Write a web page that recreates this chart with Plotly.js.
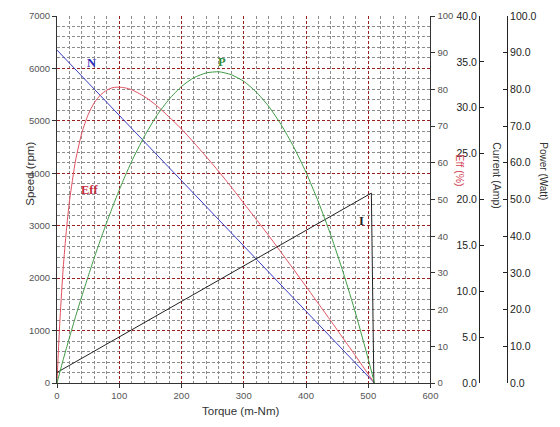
<!DOCTYPE html>
<html><head><meta charset="utf-8">
<script src="https://cdn.plot.ly/plotly-3.0.1.min.js"></script>
<style>html,body{margin:0;padding:0;background:#fff}#chart{width:560px;height:427px}</style>
</head><body><div id="chart"></div>
<script>
// Speed (N) line
const speedTorque = [0, 510];
const speed = [6350, 0];
// Current (I)
const currentTorque = [0, 505, 509];
const current = [1.15, 20.7, 0];
// Power (P) and efficiency (Eff) sampled along torque
const torque = [0,2,5,10,15,20,30,40,50,60,70,80,90,100,110,120,140,160,180,200,220,240,260,280,300,320,340,360,380,400,420,440,460,480,500,510];
const power = [0,1.3,3.2,6.4,9.4,12.4,18.2,23.7,29.0,34.2,39.1,43.8,48.3,52.6,56.6,60.4,67.1,72.8,77.3,80.8,83.2,84.5,84.8,84.0,82.2,79.3,75.4,70.4,64.4,57.4,49.3,40.2,30.0,18.8,6.5,0];
const eff = [0,7.9,18.0,31.4,41.5,49.5,60.8,68.2,73.1,76.4,78.5,79.8,80.5,80.6,80.4,79.9,78.1,75.6,72.5,69.2,65.5,61.6,57.6,53.4,49.0,44.6,40.2,35.6,31.0,26.3,21.6,16.9,12.1,7.3,2.4,0];
// curve labels
const curveLabels = ['N', 'P', 'Eff', 'I'];
// minor grid positions (between majors)
const xMinor = [];
for (let v = 20; v < 600; v += 20) if (v % 100 !== 0) xMinor.push(v);
const yMinor = [];
for (let v = 200; v <= 7000; v += 200) if (v % 1000 !== 0 || v === 7000) yMinor.push(v);

const tickFont = {family: 'Liberation Sans, Arial, sans-serif', size: 9.5, color: '#555'};
const boldTick = {family: 'Liberation Sans, Arial, sans-serif', size: 10.5, color: '#222'};
const XW = 0.7576;
const majorGrid = {showgrid: true, gridcolor: '#9a2020', griddash: '3px,2px', gridwidth: 1};

const traces = [
  {x: speedTorque, y: speed, xaxis: 'x', yaxis: 'y', mode: 'lines', line: {color: '#3b3bc4', width: 1}, hoverinfo: 'skip'},
  {x: torque, y: eff, xaxis: 'x', yaxis: 'y2', mode: 'lines', line: {color: '#e0505f', width: 1, shape: 'spline', smoothing: 0.6}, hoverinfo: 'skip'},
  {x: currentTorque, y: current, xaxis: 'x', yaxis: 'y3', mode: 'lines', line: {color: '#222', width: 1}, hoverinfo: 'skip'},
  {x: torque, y: power, xaxis: 'x', yaxis: 'y4', mode: 'lines', line: {color: '#3f9a44', width: 1, shape: 'spline', smoothing: 0.6}, hoverinfo: 'skip'}
];

const labelFont = (c) => ({family: 'Liberation Serif, Times New Roman, serif', size: 12.5, color: c, weight: 'bold'});

const layout = {
  width: 560, height: 427,
  margin: {l: 57, r: 10, t: 16, b: 44},
  paper_bgcolor: '#fff', plot_bgcolor: '#fff',
  showlegend: false,
  xaxis: Object.assign({
    domain: [0, XW], range: [0, 600], dtick: 100, tick0: 0,
    showline: true, linecolor: '#333', linewidth: 1,
    ticks: 'outside', ticklen: 4, tickcolor: '#333',
    tickfont: tickFont,
    minor: {tickmode: 'array', tickvals: xMinor, showgrid: true, gridcolor: '#8c8c8c', griddash: '3px,2px', gridwidth: 1},
    zeroline: false
  }, majorGrid),
  yaxis: Object.assign({
    range: [0, 7000], dtick: 1000, tick0: 0,
    showline: true, linecolor: '#333', linewidth: 1,
    ticks: 'outside', ticklen: 4, tickcolor: '#333',
    tickfont: tickFont,
    minor: {tickmode: 'array', tickvals: yMinor, showgrid: true, gridcolor: '#8c8c8c', griddash: '3px,2px', gridwidth: 1},
    zeroline: false
  }, majorGrid),
  yaxis2: {
    overlaying: 'y', side: 'right', anchor: 'x', range: [0, 100], dtick: 10,
    showline: true, linecolor: '#333', linewidth: 1,
    ticks: 'outside', ticklen: 4, tickcolor: '#333',
    tickfont: tickFont, showgrid: false, zeroline: false
  },
  yaxis3: {
    overlaying: 'y', side: 'left', anchor: 'free', position: 0.856,
    range: [0, 40], dtick: 5, tickformat: '.1f',
    showline: true, linecolor: '#222', linewidth: 1,
    ticks: 'inside', ticklen: 4, tickcolor: '#222',
    tickfont: boldTick, showgrid: false, zeroline: false
  },
  yaxis4: {
    overlaying: 'y', side: 'right', anchor: 'free', position: 0.9128,
    range: [0, 100], dtick: 10, tickformat: '.1f',
    showline: true, linecolor: '#222', linewidth: 1,
    ticks: 'inside', ticklen: 4, tickcolor: '#222',
    tickfont: boldTick, showgrid: false, zeroline: false
  },
  annotations: [
    {text: 'Speed (rpm)', xref: 'paper', yref: 'paper', x: -0.055, y: 0.57, xanchor: 'center', yanchor: 'middle', textangle: -90, showarrow: false,
     font: {family: 'Liberation Sans, Arial, sans-serif', size: 11.5, color: '#333'}},
    {text: 'Torque (m-Nm)', xref: 'paper', yref: 'paper', x: 0.3716, y: -0.075, xanchor: 'center', yanchor: 'middle', showarrow: false,
     font: {family: 'Liberation Sans, Arial, sans-serif', size: 11.5, color: '#333'}},
    {text: 'Eff (%)', xref: 'paper', yref: 'paper', x: 0.818, y: 0.578, xanchor: 'center', yanchor: 'middle', textangle: 90, showarrow: false,
     font: {family: 'Liberation Sans, Arial, sans-serif', size: 10.5, color: '#d04050'}},
    {text: 'Current (Amp)', xref: 'paper', yref: 'paper', x: 0.8925, y: 0.566, xanchor: 'center', yanchor: 'middle', textangle: 90, showarrow: false,
     font: {family: 'Liberation Sans, Arial, sans-serif', size: 10.5, color: '#333'}},
    {text: 'Power (Watt)', xref: 'paper', yref: 'paper', x: 0.987, y: 0.578, xanchor: 'center', yanchor: 'middle', textangle: 90, showarrow: false,
     font: {family: 'Liberation Sans, Arial, sans-serif', size: 10, color: '#333'}},
    {text: curveLabels[0], xref: 'x', yref: 'y', x: 55.7, y: 6098, showarrow: false, font: labelFont('#2a2ab8')},
    {text: curveLabels[1], xref: 'x', yref: 'y', x: 264.6, y: 6128, showarrow: false, font: labelFont('#2f8a35')},
    {text: curveLabels[2], xref: 'x', yref: 'y', x: 53, y: 3681, showarrow: false, font: labelFont('#c83040')},
    {text: curveLabels[3], xref: 'x', yref: 'y', x: 489.5, y: 3090, showarrow: false, font: labelFont('#222')}
  ]
};

Plotly.newPlot('chart', traces, layout, {staticPlot: true, displayModeBar: false});
</script>
</body></html>
